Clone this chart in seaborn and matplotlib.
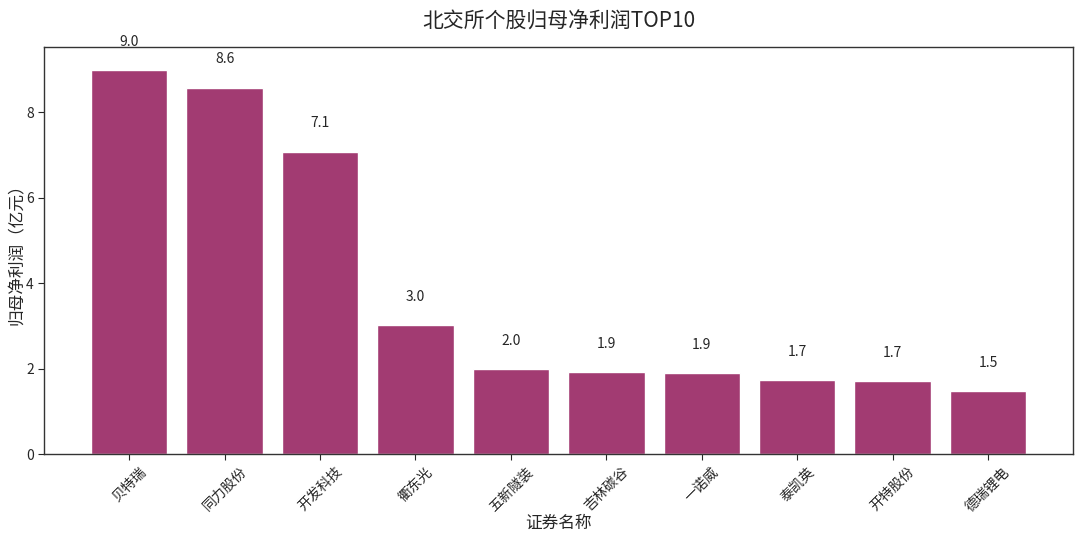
import pandas as pd
import seaborn as sns
import matplotlib.pyplot as plt

names = ["贝特瑞", "同力股份", "开发科技", "衢东光", "五新隧装", "吉林碳谷", "一诺威", "泰凯英", "开特股份", "德瑞锂电"]
profits = [8.98, 8.57, 7.07, 3.02, 1.99, 1.92, 1.90, 1.73, 1.71, 1.48]


def main():
    df = pd.DataFrame({"name": names, "profit": profits})

    sns.set_style("white")
    plt.rcParams['font.family'] = ['Noto Sans CJK SC', 'DejaVu Sans']
    plt.rcParams['axes.unicode_minus'] = False

    fig, ax = plt.subplots(figsize=(10.8, 5.35), dpi=100)
    sns.barplot(data=df, x="name", y="profit", color="#A23B72", saturation=1, width=0.8, ax=ax)

    for i, v in enumerate(df["profit"]):
        ax.text(i, v + 0.5, f"{v:.1f}", ha="center", va="bottom", fontsize=10)

    ax.set_xlim(-0.89, 9.89)
    ax.set_ylim(0, 9.52)
    ax.set_title("北交所个股归母净利润TOP10", fontsize=15, pad=14)
    ax.set_xlabel("证券名称", fontsize=12, labelpad=1)
    ax.set_ylabel("归母净利润（亿元）", fontsize=12, labelpad=0)
    ax.tick_params(axis="both", labelsize=10, length=4, left=True, bottom=True)
    plt.setp(ax.get_xticklabels(), rotation=45)
    for s in ax.spines.values():
        s.set_color("#333333")
        s.set_linewidth(1)

    fig.subplots_adjust(left=0.041, right=0.9935, top=0.912, bottom=0.151)
    plt.savefig("out.png")
    plt.close()


if __name__ == "__main__":
    main()
